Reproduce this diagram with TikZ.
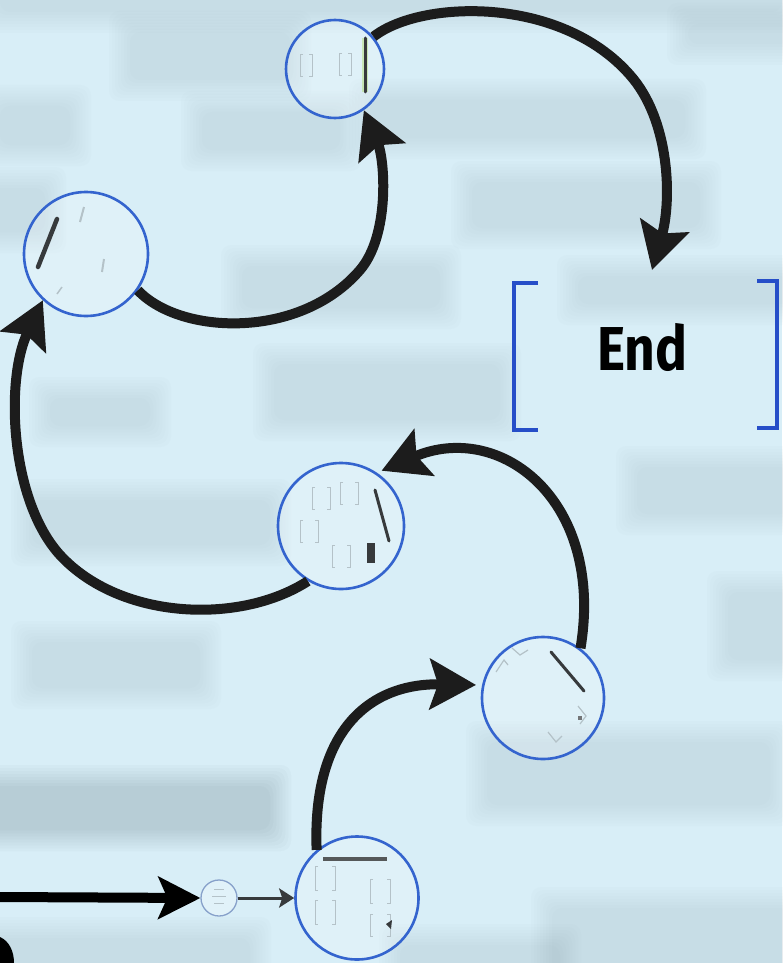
\documentclass[tikz,border=0pt]{standalone}
\usepackage{fontspec}
\newfontfamily\endfont{Fira Sans}
\usetikzlibrary{arrows.meta}

\definecolor{bgblue}{RGB}{216,238,247}
\definecolor{patchgray}{RGB}{150,172,182}
\definecolor{ringblue}{RGB}{52,100,206}
\definecolor{bracketblue}{RGB}{38,78,200}
\definecolor{inkdark}{RGB}{28,28,28}
\definecolor{faintmark}{RGB}{180,194,200}
\definecolor{titlegray}{RGB}{55,58,60}

% soft, blurred background slab: x1 y1 x2 y2
\newcommand\softpatch[4]{%
  \foreach \k in {0,...,7}{%
    \fill[patchgray, opacity=0.032, rounded corners=10pt]
      ({#1-(7-\k)*3},{#2-(7-\k)*3}) rectangle ({#3+(7-\k)*3},{#4+(7-\k)*3});
  }}
% a faint pair of square brackets: left x, top y, width, height
\newcommand\brpair[4]{%
  \draw[faintmark, line width=1pt] ({#1+3},#2) -- (#1,#2) -- (#1,{#2+#4}) -- ({#1+3},{#2+#4});
  \draw[faintmark, line width=1pt] ({#1+#3-3},#2) -- ({#1+#3},#2) -- ({#1+#3},{#2+#4}) -- ({#1+#3-3},{#2+#4});}

\tikzset{
  topic/.style={circle, draw=ringblue, line width=2.6pt, fill=white, fill opacity=0.2,
    inner sep=0pt},
  smalltopic/.style={circle, draw=ringblue!35!faintmark, line width=1.3pt, fill=white,
    fill opacity=0.25, inner sep=0pt, minimum size=36pt},
  flow/.style={draw=inkdark, line width=10pt,
    -{Stealth[length=46pt,width=50pt,inset=8pt]}},
  startflow/.style={draw=black, line width=10pt,
    -{Stealth[length=42pt,width=42pt,inset=9pt]}},
  thinflow/.style={draw=titlegray, line width=3pt,
    -{Stealth[length=15pt,width=19pt,inset=3pt]}},
  titlebar/.style={draw=titlegray, line width=3.5pt, line cap=round},
  bracketline/.style={draw=bracketblue, line width=3.2pt},
}

\begin{document}
\begin{tikzpicture}[x=1pt, y=-1pt]
  \useasboundingbox (0,0) rectangle (782,963);
  \fill[bgblue] (0,0) rectangle (782,963);

  % background slabs
  \softpatch{0}{-10}{782}{12}
  \softpatch{130}{32}{290}{80}
  \softpatch{0}{106}{70}{145}
  \softpatch{202}{112}{340}{150}
  \softpatch{370}{100}{685}{138}
  \softpatch{688}{24}{790}{44}
  \softpatch{472}{182}{700}{228}
  \softpatch{-10}{188}{45}{232}
  \softpatch{242}{266}{440}{308}
  \softpatch{578}{276}{790}{304}
  \softpatch{274}{364}{500}{420}
  \softpatch{50}{398}{150}{426}
  \softpatch{32}{500}{270}{545}
  \softpatch{637}{467}{790}{514}
  \softpatch{728}{592}{790}{660}
  \softpatch{32}{642}{200}{688}
  \softpatch{-10}{786}{270}{830}
  \softpatch{-10}{786}{270}{830}
  \softpatch{487}{742}{770}{805}
  \softpatch{552}{908}{790}{973}
  \softpatch{-10}{938}{250}{973}
  \softpatch{400}{945}{560}{973}

  % topic circles
  \node[topic, minimum size=98pt]  (a) at (335,69)  {};
  \node[topic, minimum size=124pt] (b) at (86,254)  {};
  \node[topic, minimum size=126pt] (c) at (341,526) {};
  \node[topic, minimum size=122pt] (d) at (543,698) {};
  \node[topic, minimum size=123pt] (e) at (357,898) {};
  \node[smalltopic] (f) at (219,898) {};
  \coordinate (entry) at (0,897);
  \coordinate (endtip) at (652,270);

  % contents of circle a
  \draw[yellow!60!green, line width=6pt, opacity=0.3] (365,38) -- (365,92);
  \draw[titlebar, line width=3pt] (365,38) -- (365,92);
  \brpair{300}{55}{12}{22}
  \brpair{339}{54}{12}{22}

  % contents of circle b
  \draw[titlebar, line width=4.5pt] (57,219) -- (38,267);
  \draw[faintmark, line width=2pt] (84,207) -- (80,222);
  \draw[faintmark, line width=2pt] (104,259) -- (102,272);
  \draw[faintmark, line width=1.5pt] (62,287) -- (57,294);

  % contents of circle c
  \draw[titlebar, line width=3pt] (375,490) -- (389,541);
  \fill[titlegray] (367,543) rectangle (375,563);
  \brpair{312}{487}{18}{22}
  \brpair{340}{482}{18}{22}
  \brpair{300}{520}{18}{22}
  \brpair{332}{545}{18}{22}

  % contents of circle d
  \draw[titlebar, line width=3pt] (551,652) -- (584,691);
  \draw[faintmark, line width=1.2pt] (496,672) -- (504,660) -- (508,665);
  \draw[faintmark, line width=1.2pt] (512,648) -- (520,655) -- (528,650);
  \draw[faintmark, line width=1.2pt] (578,706) -- (586,716) -- (580,724);
  \draw[faintmark, line width=1.2pt] (548,732) -- (556,742) -- (562,736);
  \fill[titlegray!70] (578,716) rectangle (582,720);

  % contents of circle e
  \draw[titlebar, line width=4pt, line cap=butt, draw=titlegray!85] (323,859) -- (387,859);
  \brpair{315}{866}{20}{24}
  \brpair{370}{879}{20}{24}
  \brpair{315}{900}{20}{24}
  \brpair{370}{914}{20}{22}
  \fill[titlegray] (386,924) -- (392,920) -- (391,929) -- cycle;

  % contents of circle f
  \draw[faintmark, line width=1pt] (214,889) -- (224,889);
  \draw[faintmark, line width=1pt] (212,896) -- (226,896);
  \draw[faintmark, line width=1pt] (214,903) -- (224,903);

  % connectors
  \draw[startflow] (entry) -- (f.west);
  \draw[thinflow] (f.east) -- (e.west);
  \draw[flow, shorten >=6pt] (e.130) .. controls (312,730) and (370,683) .. (d.168);
  \draw[flow, shorten >=5pt] (d.53) .. controls (605,500) and (500,420) .. (c.56);
  \draw[flow] (c.-121) .. controls (240,625) and (120,620) .. (60,555)
                       .. controls (10,500) and (5,380) .. (b.-133);
  \draw[flow] (b.-35) .. controls (180,335) and (300,340) .. (360,270)
                      .. controls (390,235) and (385,160) .. (a.-55);
  \draw[flow] (a.40) .. controls (420,0) and (560,-5) .. (630,75)
                     .. controls (670,120) and (672,200) .. (endtip);

  % partial stroke at the lower left corner
  \fill[black] (0,937) .. controls (9,941) and (14,951) .. (14,963) -- (0,963) -- cycle;

  % closing frame
  \draw[bracketline] (538,283) -- (514,283) -- (514,430) -- (538,430);
  \draw[bracketline] (757,281) -- (777,281) -- (777,428) -- (757,428);
  \node[font=\endfont\bfseries\fontsize{62}{62}\selectfont, text=black, anchor=base,
        xscale=0.86, inner sep=0pt] (endlabel) at (642.5,370) {End};
\end{tikzpicture}
\end{document}
